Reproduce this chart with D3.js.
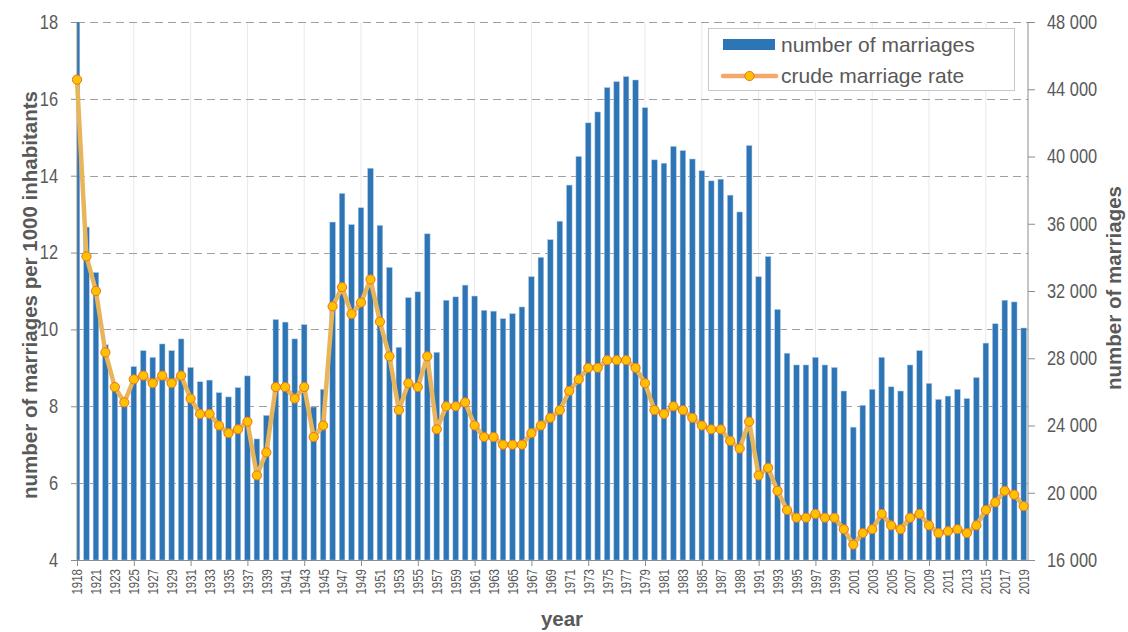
<!DOCTYPE html>
<html><head><meta charset="utf-8">
<script src="https://cdn.jsdelivr.net/npm/d3@7"></script>
<style>
body{margin:0;background:#fff;}
svg{display:block;}
</style></head><body><svg id="c" width="1128" height="632"></svg>
<script>
const years = [1918,1920,1921,1922,1923,1924,1925,1926,1927,1928,1929,1930,1931,1932,1933,1934,1935,1936,1937,1938,1939,
1940,1941,1942,1943,1944,1945,1946,1947,1948,1949,1950,1951,1952,1953,1954,1955,1956,1957,1958,1959,
1960,1961,1962,1963,1964,1965,1966,1967,1968,1969,1970,1971,1972,1973,1974,1975,1976,1977,1978,1979,
1980,1981,1982,1983,1984,1985,1986,1987,1988,1989,1990,1991,1992,1993,1994,1995,1996,1997,1998,1999,
2000,2001,2002,2003,2004,2005,2006,2007,2008,2009,2010,2011,2012,2013,2014,2015,2016,2017,2018,2019];

const marriages = [48900,35800,33100,28800,26400,25500,27500,28450,28050,28850,28450,29150,27450,26600,26700,25950,25700,26250,26950,23200,24600,
30300,30150,29150,30000,25100,26150,36100,37800,35950,36950,39300,35900,33400,28650,31600,31950,35400,28350,31450,31650,
32350,31700,30850,30800,30350,30650,31050,32850,34000,35050,36150,38300,40000,42000,42650,44100,44450,44750,44550,42900,
39800,39600,40600,40350,39850,39150,38550,38650,37700,36700,40650,32850,34050,30900,28300,27600,27600,28050,27600,27450,
26050,23900,25200,26150,28050,26300,26050,27600,28450,26500,25550,25750,26150,25600,26850,28900,30050,31450,31350,29800];

const rate = [16.5,11.9,11.0,9.4,8.5,8.1,8.7,8.8,8.6,8.8,8.6,8.8,8.2,7.8,7.8,7.5,7.3,7.4,7.6,6.2,6.8,
8.5,8.5,8.2,8.5,7.2,7.5,10.6,11.1,10.4,10.7,11.3,10.2,9.3,7.9,8.6,8.5,9.3,7.4,8.0,8.0,
8.1,7.5,7.2,7.2,7.0,7.0,7.0,7.3,7.5,7.7,7.9,8.4,8.7,9.0,9.0,9.2,9.2,9.2,9.0,8.6,
7.9,7.8,8.0,7.9,7.7,7.5,7.4,7.4,7.1,6.9,7.6,6.2,6.4,5.8,5.3,5.1,5.1,5.2,5.1,5.1,
4.8,4.4,4.7,4.8,5.2,4.9,4.8,5.1,5.2,4.9,4.7,4.75,4.8,4.7,4.9,5.3,5.5,5.8,5.7,5.4];

const leftTicks = [4,6,8,10,12,14,16,18];
const rightTicks = [16000,20000,24000,28000,32000,36000,40000,44000,48000];
const seriesNames = ["number of marriages","crude marriage rate"];
const titleLeft = "number of marriages per 1000 inhabitants";
const titleRight = "number of marriages";
const titleX = "year";

const svg = d3.select("#c");
const L = 77, R = 1028, T = 22, B = 560;
const step = 9.467;
const x = d3.scaleLinear().domain([0, years.length - 1]).range([L, L + step * (years.length - 1)]);
const yL = d3.scaleLinear().domain([4, 18]).range([B, T]);
const yR = d3.scaleLinear().domain([16000, 48000]).range([B, T]);

const sans = '"Liberation Sans",Arial,sans-serif';
const txtCol = "#595959";
const axCol = "#8c8c8c";
const sx = 0.82; // horizontal squeeze to imitate a narrow face

svg.append("defs").append("clipPath").attr("id","plot")
  .append("rect").attr("x", L).attr("y", T).attr("width", R - L).attr("height", B - T);

// vertical light gridlines
const vIdx = d3.range(0, years.length, 6).filter(i => i > 0);
svg.append("g").selectAll("line").data(vIdx).join("line")
  .attr("x1", d => x(d)).attr("x2", d => x(d)).attr("y1", T).attr("y2", B)
  .attr("stroke", "#e9e9e9").attr("stroke-width", 1);

// horizontal dashed gridlines
svg.append("g").selectAll("line").data(leftTicks.filter(v => v > 4)).join("line")
  .attr("x1", L).attr("x2", R).attr("y1", d => Math.round(yL(d)) + 0.5).attr("y2", d => Math.round(yL(d)) + 0.5)
  .attr("stroke", "#a0a0a0").attr("stroke-width", 1).attr("stroke-dasharray", "8,5");

// bars
const bw = 5.6;
svg.append("g").attr("clip-path", "url(#plot)").selectAll("rect").data(marriages).join("rect")
  .attr("x", (d, i) => x(i) - bw / 2).attr("width", bw)
  .attr("y", d => yR(d)).attr("height", d => B - yR(d))
  .attr("fill", "#2e75b6").attr("stroke", "#a9c8e8").attr("stroke-width", 0.5);

// axes
const gL = svg.append("g").attr("transform", `translate(${L},0)`)
  .call(d3.axisLeft(yL).tickValues(leftTicks).tickSize(6).tickFormat(d3.format("d")));
const fmt = d3.formatLocale({decimal: ".", thousands: " ", grouping: [3], currency: ["", ""]}).format(",");
const gR = svg.append("g").attr("transform", `translate(${R},0)`)
  .call(d3.axisRight(yR).tickValues(rightTicks).tickSize(7).tickFormat(fmt));
const gB = svg.append("g").attr("transform", `translate(0,${B})`)
  .call(d3.axisBottom(x).tickValues(d3.range(0, years.length, 6)).tickSize(6).tickFormat(""));
const gBL = svg.append("g").attr("transform", `translate(0,${B})`)
  .call(d3.axisBottom(x).tickValues(d3.range(0, years.length, 2)).tickSize(0).tickFormat(i => years[i]));

[gL, gR, gB, gBL].forEach(g => {
  g.select(".domain").remove();
  g.selectAll(".tick line").attr("stroke", axCol);
});
gL.selectAll("text").attr("font-family", sans).attr("font-size", 20).attr("fill", txtCol)
  .attr("transform", `scale(${sx},1)`).attr("x", -19 / sx);
gR.selectAll("text").attr("font-family", sans).attr("font-size", 20).attr("fill", txtCol)
  .attr("transform", `scale(${sx},1)`).attr("x", 19 / sx);
gBL.selectAll("text").attr("font-family", sans).attr("font-size", 14).attr("fill", txtCol)
  .attr("transform", `rotate(-90) scale(${sx},1)`).attr("text-anchor", "end")
  .attr("x", -9 / sx).attr("y", 0).attr("dy", "0.35em");

// axis lines
svg.append("line").attr("x1", L).attr("x2", L).attr("y1", T).attr("y2", B).attr("stroke", axCol);
svg.append("line").attr("x1", R).attr("x2", R).attr("y1", T).attr("y2", B).attr("stroke", axCol);
svg.append("line").attr("x1", L).attr("x2", R).attr("y1", B + 0.5).attr("y2", B + 0.5).attr("stroke", axCol);

// rate line
const line = d3.line().x((d, i) => x(i)).y(d => yL(d));
svg.append("path").datum(rate).attr("d", line).attr("fill", "none")
  .attr("stroke", "#e9b55b").attr("stroke-width", 4.5).attr("stroke-linejoin", "round");
svg.append("g").selectAll("circle").data(rate).join("circle")
  .attr("cx", (d, i) => x(i)).attr("cy", d => yL(d)).attr("r", 4.6)
  .attr("fill", "#ffc000").attr("stroke", "#e8731f").attr("stroke-width", 1);

// titles
svg.append("text").attr("transform", "translate(37,295) rotate(-90)").attr("text-anchor", "middle")
  .attr("font-family", sans).attr("font-weight", "bold").attr("font-size", 20.5).attr("fill", txtCol).text(titleLeft);
svg.append("text").attr("transform", "translate(1121,288) rotate(-90)").attr("text-anchor", "middle")
  .attr("font-family", sans).attr("font-weight", "bold").attr("font-size", 20.5).attr("fill", txtCol).text(titleRight);
svg.append("text").attr("x", 562).attr("y", 626).attr("text-anchor", "middle")
  .attr("font-family", sans).attr("font-weight", "bold").attr("font-size", 20.5).attr("fill", txtCol).text(titleX);

// legend
const lg = svg.append("g");
lg.append("rect").attr("x", 708.5).attr("y", 28.5).attr("width", 306).attr("height", 62)
  .attr("fill", "#fff").attr("stroke", "#c8c8c8");
lg.append("rect").attr("x", 723).attr("y", 39).attr("width", 52).attr("height", 11).attr("fill", "#2e75b6");
lg.append("line").attr("x1", 723).attr("x2", 776).attr("y1", 76).attr("y2", 76)
  .attr("stroke", "#f3a769").attr("stroke-width", 4.5).attr("stroke-linecap", "round");
lg.append("circle").attr("cx", 749.5).attr("cy", 76).attr("r", 4.6)
  .attr("fill", "#ffc000").attr("stroke", "#e8731f").attr("stroke-width", 1);
lg.selectAll("text.lt").data(seriesNames).join("text").attr("class", "lt")
  .attr("x", 781).attr("y", (d, i) => 45 + i * 31).attr("dy", "0.35em")
  .attr("font-family", sans).attr("font-size", 21).attr("fill", txtCol).text(d => d);
</script></body></html>
